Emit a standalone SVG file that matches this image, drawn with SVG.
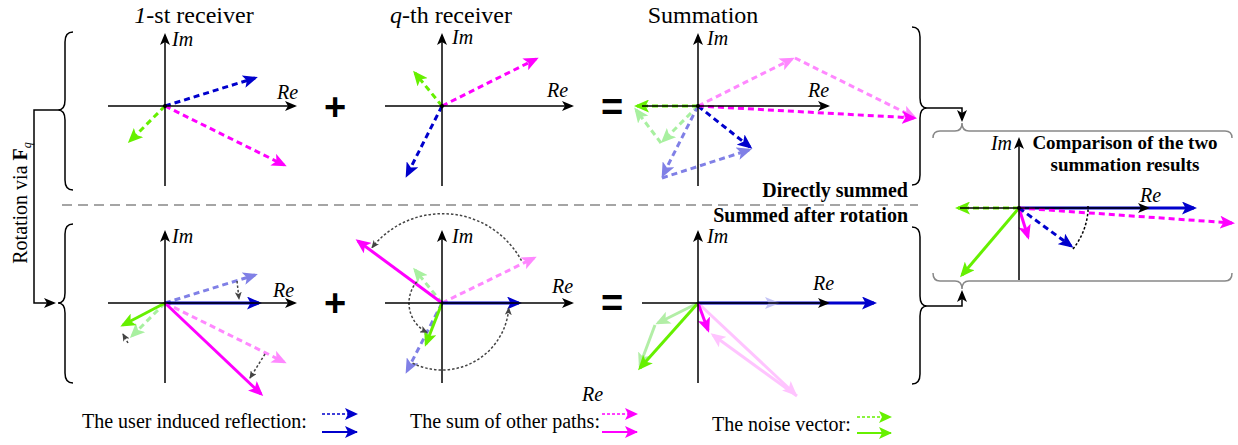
<svg xmlns="http://www.w3.org/2000/svg" width="1238" height="445" viewBox="0 0 1238 445">
<style>
text{font-family:"Liberation Serif","Times New Roman",serif;fill:#000}
.t{font-size:24px;text-anchor:middle}
.al{font-size:20px;font-style:italic}
.lab{font-size:20px;font-weight:bold}
.cmp{font-size:19px;font-weight:bold;text-anchor:middle}
.leg{font-size:20px}
.op{font-family:"Liberation Sans",Arial,sans-serif;font-size:38px;font-weight:bold;text-anchor:middle}
.ax{stroke:#000;stroke-width:1.5;fill:none;marker-end:url(#mK)}
.v{fill:none;stroke-width:3}
.d{stroke-dasharray:6 4}
.b{stroke:#0000cc;marker-end:url(#mB)}
.m{stroke:#ff00ff;marker-end:url(#mM)}
.g{stroke:#66f000;marker-end:url(#mG)}
.lb{stroke:#8080e6;marker-end:url(#mLB)}
.lm{stroke:#ff88ff;marker-end:url(#mLM)}
.lg{stroke:#a8f0a0;marker-end:url(#mLG)}
.pm{stroke:#ffc4ff;marker-end:url(#mPM)}
.pg{stroke:#b2eea6;marker-end:url(#mPG)}
.rot{fill:none;stroke:#444;stroke-width:1.5;stroke-dasharray:2.5 2;marker-end:url(#mD)}
.br{fill:none;stroke:#000;stroke-width:1.5}
.gbr{fill:none;stroke:#888;stroke-width:1.5}
.cn{fill:none;stroke:#000;stroke-width:1.5;marker-end:url(#mK)}
.lgd{fill:none;stroke-width:1.5;stroke-dasharray:3 2}
.lgs{fill:none;stroke-width:2}
</style>
<defs>
<marker id="mK" viewBox="0 0 12 10" markerWidth="12" markerHeight="10" refX="10" refY="5" orient="auto" markerUnits="userSpaceOnUse"><path d="M0,0 L12,5 L0,10 L3,5 Z" fill="#000"/></marker>
<marker id="mD" viewBox="0 0 8 7" markerWidth="8" markerHeight="7" refX="7" refY="3.5" orient="auto" markerUnits="userSpaceOnUse"><path d="M0,0 L8,3.5 L0,7 L2,3.5 Z" fill="#444"/></marker>
<marker id="mB" viewBox="0 0 16 13" markerWidth="16" markerHeight="13" refX="12" refY="6.5" orient="auto" markerUnits="userSpaceOnUse"><path d="M0,0 L15,6.5 L0,13 L3.5,6.5 Z" fill="#0000cc"/></marker>
<marker id="mM" viewBox="0 0 16 13" markerWidth="16" markerHeight="13" refX="12" refY="6.5" orient="auto" markerUnits="userSpaceOnUse"><path d="M0,0 L15,6.5 L0,13 L3.5,6.5 Z" fill="#ff00ff"/></marker>
<marker id="mG" viewBox="0 0 16 13" markerWidth="16" markerHeight="13" refX="12" refY="6.5" orient="auto" markerUnits="userSpaceOnUse"><path d="M0,0 L15,6.5 L0,13 L3.5,6.5 Z" fill="#66f000"/></marker>
<marker id="mLB" viewBox="0 0 16 13" markerWidth="16" markerHeight="13" refX="12" refY="6.5" orient="auto" markerUnits="userSpaceOnUse"><path d="M0,0 L15,6.5 L0,13 L3.5,6.5 Z" fill="#8080e6"/></marker>
<marker id="mLM" viewBox="0 0 16 13" markerWidth="16" markerHeight="13" refX="12" refY="6.5" orient="auto" markerUnits="userSpaceOnUse"><path d="M0,0 L15,6.5 L0,13 L3.5,6.5 Z" fill="#ff88ff"/></marker>
<marker id="mLG" viewBox="0 0 16 13" markerWidth="16" markerHeight="13" refX="12" refY="6.5" orient="auto" markerUnits="userSpaceOnUse"><path d="M0,0 L15,6.5 L0,13 L3.5,6.5 Z" fill="#a8f0a0"/></marker>
<marker id="mPM" viewBox="0 0 16 13" markerWidth="16" markerHeight="13" refX="12" refY="6.5" orient="auto" markerUnits="userSpaceOnUse"><path d="M0,0 L15,6.5 L0,13 L3.5,6.5 Z" fill="#ffc4ff"/></marker>
<marker id="mPG" viewBox="0 0 16 13" markerWidth="16" markerHeight="13" refX="12" refY="6.5" orient="auto" markerUnits="userSpaceOnUse"><path d="M0,0 L15,6.5 L0,13 L3.5,6.5 Z" fill="#b2eea6"/></marker>
<marker id="sB" viewBox="0 0 13 12" markerWidth="13" markerHeight="12" refX="12" refY="6" orient="auto" markerUnits="userSpaceOnUse"><path d="M0,0 L13,6 L0,12 L3,6 Z" fill="#0000cc"/></marker>
<marker id="sM" viewBox="0 0 13 12" markerWidth="13" markerHeight="12" refX="12" refY="6" orient="auto" markerUnits="userSpaceOnUse"><path d="M0,0 L13,6 L0,12 L3,6 Z" fill="#ff00ff"/></marker>
<marker id="sG" viewBox="0 0 13 12" markerWidth="13" markerHeight="12" refX="12" refY="6" orient="auto" markerUnits="userSpaceOnUse"><path d="M0,0 L13,6 L0,12 L3,6 Z" fill="#66f000"/></marker>
</defs>
<rect width="1238" height="445" fill="#fff"/>

<g id="connectors">
<path class="br" d="M73,32 Q65,32 65,42 L65,100 Q65,110 58,110 Q65,110 65,120 L65,180 Q65,190 73,190"/>
<path class="br" d="M73,224 Q65,224 65,234 L65,293 Q65,303 58,303 Q65,303 65,313 L65,373 Q65,383 73,383"/>
<path class="cn" d="M58,110 L34,110 L34,303 L54,303"/>
<path class="br" d="M912,27 Q920,27 920,37 L920,98 Q920,108 927,108 Q920,108 920,118 L920,175 Q920,185 912,185"/>
<path class="br" d="M912,227 Q920,227 920,237 L920,296 Q920,306 927,306 Q920,306 920,316 L920,374 Q920,384 912,384"/>
<path class="cn" d="M927,108 L962,108 L962,120"/>
<path class="cn" d="M927,306 L962,306 L962,292"/>
<line x1="62" y1="205" x2="918" y2="205" stroke="#888" stroke-width="1.5" stroke-dasharray="10 6"/>
</g>

<g id="rotation-label">
<text class="leg" transform="translate(27,203) rotate(-90)" text-anchor="middle">Rotation via <tspan font-weight="bold">F</tspan><tspan font-style="italic" font-size="12" dy="4">q</tspan></text>
</g>

<g id="panel-1st-direct">
<text class="t" x="194" y="23"><tspan font-style="italic">1</tspan>-st receiver</text>
<line class="v d b" x1="165" y1="106" x2="255" y2="78"/>
<line class="v d g" x1="165" y1="106" x2="130" y2="141"/>
<line class="v d m" x1="165" y1="106" x2="284" y2="165"/>
<line class="ax" x1="165" y1="186" x2="165" y2="35"/>
<line class="ax" x1="108" y1="106" x2="295" y2="106"/>
<circle cx="165" cy="106" r="2"/>
<text class="al" x="172" y="46">Im</text>
<text class="al" x="277" y="99">Re</text>
</g>

<text class="op" x="335" y="120">+</text>

<g id="panel-qth-direct">
<text class="t" x="451" y="23"><tspan font-style="italic">q</tspan>-th receiver</text>
<line class="v d g" x1="442" y1="106" x2="415" y2="73"/>
<line class="v d m" x1="442" y1="106" x2="536" y2="59"/>
<line class="v d b" x1="442" y1="106" x2="407" y2="175"/>
<line class="ax" x1="442" y1="186" x2="442" y2="35"/>
<line class="ax" x1="385" y1="106" x2="572" y2="106"/>
<circle cx="442" cy="106" r="2"/>
<text class="al" x="452" y="44">Im</text>
<text class="al" x="547" y="97">Re</text>
</g>

<text class="op" x="612" y="120">=</text>

<g id="panel-sum-direct">
<text class="t" x="703" y="23">Summation</text>
<line class="v d lg" x1="698" y1="106" x2="663" y2="141"/>
<line class="v d lg" x1="661" y1="143" x2="636" y2="110"/>
<line class="v d lb" x1="698" y1="106" x2="663" y2="175"/>
<line class="v d lb" x1="662" y1="178" x2="749" y2="150"/>
<line class="v d lm" x1="698" y1="106" x2="792" y2="59"/>
<line class="v d lm" x1="795" y1="58" x2="914" y2="117"/>
<line class="v d g" x1="698" y1="106" x2="637" y2="106"/>
<line class="v d b" x1="698" y1="106" x2="750" y2="147"/>
<line class="v d m" x1="698" y1="106" x2="914" y2="118"/>
<line class="ax" x1="698" y1="186" x2="698" y2="35"/>
<line class="ax" x1="642" y1="106" x2="828" y2="106"/>
<circle cx="698" cy="106" r="2"/>
<text class="al" x="707" y="45">Im</text>
<text class="al" x="808" y="97">Re</text>
</g>

<text class="lab" x="908" y="197" text-anchor="end">Directly summed</text>
<text class="lab" x="908" y="222" text-anchor="end">Summed after rotation</text>

<g id="panel-1st-rotated">
<line class="v d lb" x1="165" y1="303" x2="255" y2="275"/>
<line class="v d lm" x1="165" y1="303" x2="284" y2="362"/>
<line class="v d lg" x1="165" y1="303" x2="132" y2="336"/>
<line class="v b" x1="165" y1="303" x2="259" y2="303"/>
<line class="v m" x1="165" y1="303" x2="261" y2="394"/>
<line class="v g" x1="165" y1="303" x2="123" y2="325"/>
<path class="rot" d="M237,281 L239,299"/>
<path class="rot" d="M265,354 L250,378"/>
<path class="rot" d="M128,343 L123,334"/>
<line class="ax" x1="165" y1="383" x2="165" y2="232"/>
<line class="ax" x1="108" y1="303" x2="295" y2="303"/>
<text class="al" x="172" y="243">Im</text>
<text class="al" x="273" y="297">Re</text>
</g>

<text class="op" x="335" y="316">+</text>

<g id="panel-qth-rotated">
<line class="v d lm" x1="442" y1="303" x2="534" y2="258"/>
<line class="v d lg" x1="442" y1="303" x2="415" y2="270"/>
<line class="v d lb" x1="442" y1="303" x2="407" y2="371"/>
<line class="v m" x1="442" y1="303" x2="358" y2="241"/>
<line class="v g" x1="442" y1="303" x2="426" y2="344"/>
<line class="v b" x1="442" y1="303" x2="519" y2="303"/>
<path class="rot" d="M521.5,260.7 A90,90 0 0 0 372,247.6"/>
<path class="rot" d="M416.7,281.8 A33,33 0 0 0 427,332.4"/>
<path class="rot" d="M412.6,363.2 A67,67 0 0 0 508.8,308"/>
<line class="ax" x1="442" y1="383" x2="442" y2="232"/>
<line class="ax" x1="385" y1="303" x2="572" y2="303"/>
<text class="al" x="452" y="243">Im</text>
<text class="al" x="552" y="293">Re</text>
</g>

<text class="op" x="612" y="316">=</text>

<g id="panel-sum-rotated">
<line class="v pg" x1="698" y1="303" x2="658" y2="323"/>
<line class="v pg" x1="655" y1="325" x2="640" y2="365"/>
<line class="v pm" x1="698" y1="303" x2="795" y2="394"/>
<line class="v pm" x1="797" y1="396" x2="713" y2="335"/>
<line class="v b" x1="698" y1="303" x2="874" y2="303"/>
<polygon points="765,297 780,303 765,309 768.5,303" fill="#b4b4f2" opacity="0.8"/>
<line class="v g" x1="698" y1="303" x2="640" y2="368"/>
<line class="v m" x1="698" y1="303" x2="708" y2="330"/>
<line class="ax" x1="698" y1="383" x2="698" y2="232"/>
<line class="ax" x1="642" y1="303" x2="828" y2="303"/>
<text class="al" x="707" y="243">Im</text>
<text class="al" x="813" y="290">Re</text>
</g>

<g id="panel-comparison">
<path class="gbr" d="M933,138 Q933,131 940,131 L955,131 Q962,131 962,123 Q962,131 969,131 L1225,131 Q1232,131 1232,138"/>
<path class="gbr" d="M933,273 Q933,281 940,281 L955,281 Q962,281 962,289 Q962,281 969,281 L1225,281 Q1232,281 1232,273"/>
<text class="cmp" x="1125" y="149">Comparison of the two</text>
<text class="cmp" x="1125" y="171">summation results</text>
<line class="v b" x1="1019" y1="208" x2="1194" y2="208"/>
<line class="v d m" x1="1019" y1="208" x2="1232" y2="223"/>
<line class="v d g" x1="1019" y1="208" x2="958" y2="208"/>
<line class="v g" x1="1019" y1="208" x2="962" y2="275"/>
<line class="v m" x1="1019" y1="208" x2="1028" y2="237"/>
<line class="v d b" x1="1019" y1="208" x2="1071" y2="246"/>
<path fill="none" stroke="#000" stroke-width="1.5" stroke-dasharray="2.5 2" d="M1073,249 A69,69 0 0 0 1088,211 L1088,206"/>
<line class="ax" x1="1019" y1="280" x2="1019" y2="139"/>
<line class="ax" x1="960" y1="208" x2="1148" y2="208"/>
<circle cx="1019" cy="208" r="2"/>
<text class="al" x="1012" y="150" text-anchor="end">Im</text>
<text class="al" x="1140" y="202">Re</text>
</g>

<g id="legend">
<text class="leg" x="82" y="428">The user induced reflection:</text>
<line class="lgd" stroke="#0000cc" marker-end="url(#sB)" x1="322" y1="414" x2="357" y2="414"/>
<line class="lgs" stroke="#0000cc" marker-end="url(#sB)" x1="322" y1="432" x2="357" y2="432"/>
<text class="leg" x="410" y="428">The sum of other paths:</text>
<text class="al" x="582" y="401">Re</text>
<line class="lgd" stroke="#ff00ff" marker-end="url(#sM)" x1="602" y1="414" x2="637" y2="414"/>
<line class="lgs" stroke="#ff00ff" marker-end="url(#sM)" x1="602" y1="432" x2="637" y2="432"/>
<text class="leg" x="712" y="431">The noise vector:</text>
<line class="lgd" stroke="#66f000" marker-end="url(#sG)" x1="857" y1="417" x2="891" y2="417"/>
<line class="lgs" stroke="#66f000" marker-end="url(#sG)" x1="857" y1="433" x2="891" y2="433"/>
</g>
</svg>
